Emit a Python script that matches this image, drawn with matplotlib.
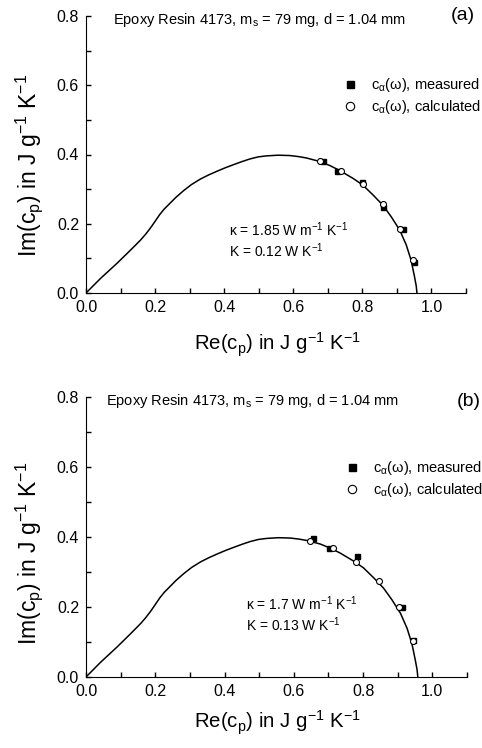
import matplotlib
matplotlib.use("Agg")
import matplotlib.pyplot as plt
import matplotlib.ticker as tck

plt.rcParams['font.family'] = ['Liberation Sans', 'DejaVu Sans']
plt.rcParams['mathtext.fontset'] = 'custom'
plt.rcParams['mathtext.rm'] = 'Liberation Sans'
plt.rcParams['mathtext.it'] = 'Liberation Sans'

# fitted curve (same shape in both panels)
curve_re = [0.0, 0.042, 0.09, 0.129, 0.158, 0.172, 0.186, 0.2, 0.213, 0.226,
            0.24, 0.26, 0.283, 0.305, 0.331, 0.355, 0.38, 0.404, 0.428, 0.45,
            0.474, 0.498, 0.522, 0.556, 0.59, 0.615, 0.638, 0.676, 0.706, 0.734,
            0.773, 0.801, 0.83, 0.859, 0.883, 0.908, 0.927, 0.941, 0.951, 0.956, 0.958]
curve_im = [0.0, 0.042, 0.086, 0.124, 0.153, 0.169, 0.187, 0.207, 0.226, 0.242,
            0.256, 0.276, 0.296, 0.313, 0.329, 0.341, 0.352, 0.362, 0.371, 0.379,
            0.387, 0.393, 0.396, 0.398, 0.397, 0.394, 0.39, 0.38, 0.368, 0.354,
            0.331, 0.312, 0.284, 0.254, 0.221, 0.182, 0.139, 0.095, 0.047, 0.02, 0.0]

# panel (a)
meas_re_a = [0.687, 0.726, 0.80, 0.861, 0.917, 0.949]
meas_im_a = [0.380, 0.351, 0.320, 0.249, 0.185, 0.090]
calc_re_a = [0.677, 0.739, 0.801, 0.859, 0.908, 0.946]
calc_im_a = [0.380, 0.353, 0.315, 0.257, 0.184, 0.095]

# panel (b)
meas_re_b = [0.656, 0.702, 0.781, 0.912, 0.945]
meas_im_b = [0.398, 0.3695, 0.345, 0.20, 0.105]
calc_re_b = [0.648, 0.712, 0.779, 0.846, 0.904, 0.944]
calc_im_b = [0.389, 0.369, 0.33, 0.274, 0.20, 0.103]

W, H = 482, 748
fig = plt.figure(figsize=(W / 100, H / 100), dpi=100)


def panel(rect, mre, mim, kre, kim, letter, kappa, K, title_xy, letter_xy,
          ann_xy, leg_xy, xlab_y, ylab_y):
    ax = fig.add_axes(rect)
    ax.plot(curve_re, curve_im, color='black', lw=1.1, zorder=2)
    ax.plot(mre, mim, 's', color='black', ms=3.6, zorder=3, label=r'c$_\alpha$(ω), measured')
    ax.plot(kre, kim, 'o', mfc='white', mec='black', mew=0.8, ms=4.3, zorder=4,
            label=r'c$_\alpha$(ω), calculated')
    ax.set_xlim(0, 1.1)
    ax.set_ylim(0, 0.8)
    ax.spines['top'].set_visible(False)
    ax.spines['right'].set_visible(False)
    ax.xaxis.set_major_locator(tck.MultipleLocator(0.2))
    ax.xaxis.set_minor_locator(tck.MultipleLocator(0.1))
    ax.yaxis.set_major_locator(tck.MultipleLocator(0.2))
    ax.yaxis.set_minor_locator(tck.MultipleLocator(0.1))
    ax.xaxis.set_major_formatter(tck.FormatStrFormatter('%.1f'))
    ax.yaxis.set_major_formatter(tck.FormatStrFormatter('%.1f'))
    ax.tick_params(which='both', direction='in', length=3.5, width=1, labelsize=11.5,
                   pad=5, colors='black')
    ax.set_xlabel(r'Re(c$_\mathrm{p}$) in J g$^{-1}$ K$^{-1}$', fontsize=14.7)
    ax.set_ylabel(r'Im(c$_\mathrm{p}$) in J g$^{-1}$ K$^{-1}$', fontsize=16.5)
    ax.xaxis.set_label_coords(0.503, xlab_y)
    ax.yaxis.set_label_coords(-0.108, ylab_y)
    fig.text(title_xy[0] / W, 1 - title_xy[1] / H,
             r'Epoxy Resin 4173, m$_\mathrm{s}$ = 79 mg, d = 1.04 mm',
             fontsize=10.5, va='center', ha='left')
    fig.text(letter_xy[0] / W, 1 - letter_xy[1] / H, letter, fontsize=14,
             va='center', ha='left')
    fig.text(ann_xy[0] / W, 1 - ann_xy[1] / H, kappa, fontsize=10, va='center', ha='left')
    fig.text(ann_xy[0] / W, 1 - (ann_xy[1] + 21) / H, K, fontsize=10, va='center', ha='left')
    ax.legend(loc='upper left', bbox_to_anchor=(leg_xy[0] / W, 1 - leg_xy[1] / H),
              bbox_transform=fig.transFigure, frameon=False, fontsize=10.5,
              handlelength=1.0, handletextpad=0.9, labelspacing=0.3,
              borderpad=0, borderaxespad=0, markerscale=1.4)
    return ax


panel([86 / W, 1 - 293 / H, 380 / W, 277 / H],
      meas_re_a, meas_im_a, calc_re_a, calc_im_a,
      '(a)', r'κ = 1.85 W m$^{-1}$ K$^{-1}$', r'K = 0.12 W K$^{-1}$',
      (113, 20), (451, 16), (229, 230), (343, 76), -0.134, 0.46)

panel([86 / W, 1 - 677 / H, 381 / W, 280 / H],
      meas_re_b, meas_im_b, calc_re_b, calc_im_b,
      '(b)', r'κ = 1.7 W m$^{-1}$ K$^{-1}$', r'K = 0.13 W K$^{-1}$',
      (106, 401), (457, 401), (246, 604), (345, 459), -0.114, 0.44)

fig.savefig('out.png', dpi=100)
